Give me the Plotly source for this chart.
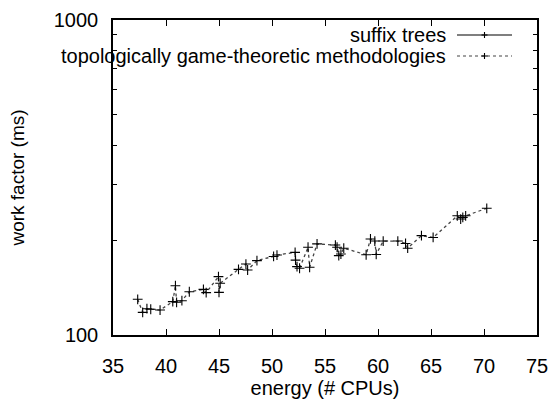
import plotly.graph_objects as go

# ---- data ----
suffix_trees_x = []
suffix_trees_y = []

methodologies_x = [37.33, 37.8, 38.2, 38.56, 39.44, 40.64, 40.89, 41.0, 41.5, 42.2,
                   43.53, 43.79, 44.95, 45.0, 45.11, 46.84, 47.54, 47.7, 48.58, 50.15,
                   50.47, 52.18, 52.22, 52.36, 52.6, 53.4, 53.55, 54.25, 55.98, 56.14,
                   56.3, 56.5, 56.77, 58.88, 59.29, 59.7, 59.83, 60.49, 61.87, 62.6,
                   62.8, 64.1, 65.2, 67.48, 67.8, 68.0, 68.27, 70.26]
methodologies_y = [129.8, 118.0, 121.2, 120.7, 120.0, 127.6, 143.4, 127.0, 128.5, 137.2,
                   139.6, 136.3, 153.2, 136.6, 146.0, 161.6, 168.0, 160.8, 172.2, 177.6,
                   179.4, 183.0, 172.9, 164.9, 162.9, 189.9, 164.1, 194.6, 193.0, 189.9,
                   178.6, 180.7, 188.6, 179.8, 201.8, 198.7, 180.2, 198.7, 198.7, 195.3,
                   188.6, 206.7, 204.0, 239.0, 233.4, 236.2, 239.0, 252.5]

series_names = ["suffix trees", "topologically game-theoretic methodologies"]
x_ticks = [35, 40, 45, 50, 55, 60, 65, 70, 75]
y_ticks = [100, 1000]
x_title = "energy (# CPUs)"
y_title = "work factor (ms)"

FONT = "Liberation Sans, Arial, Helvetica, sans-serif"
FS = 20

fig = go.Figure()
fig.add_trace(go.Scatter(
    x=suffix_trees_x, y=suffix_trees_y, mode="lines+markers", name=series_names[0],
    line=dict(color="black", width=1.2),
    marker=dict(symbol="cross-thin", size=7, line=dict(color="black", width=1.1)),
    showlegend=False))
fig.add_trace(go.Scatter(
    x=methodologies_x, y=methodologies_y, mode="lines+markers", name=series_names[1],
    line=dict(color="#444444", width=1.3, dash="dot"),
    marker=dict(symbol="cross-thin", size=7, line=dict(color="black", width=1.1)),
    showlegend=False))

# ---- gnuplot-like legend: text right-aligned, sample to its right ----
legend_rows = [(35, "solid"), (56, "dot")]
W, H = 554, 399
ml, mr, mt, mb = 113, 17, 20, 64
pw, ph = W - ml - mr, H - mt - mb
def px(xp):
    return (xp - ml) / pw
def py(yp):
    return 1 - (yp - mt) / ph
for name, (yrow, dash) in zip(series_names, legend_rows):
    fig.add_annotation(x=px(447), y=py(yrow), xref="paper", yref="paper",
                       text=name, showarrow=False, xanchor="right", yanchor="middle",
                       borderpad=0,
                       font=dict(family=FONT, size=FS, color="black"))
    fig.add_shape(type="line", xref="paper", yref="paper",
                  x0=px(457), x1=px(512), y0=py(yrow), y1=py(yrow),
                  line=dict(color="black" if dash == "solid" else "#444444",
                            width=1.1 if dash == "solid" else 1.2, dash=dash))
    fig.add_shape(type="line", xref="paper", yref="paper",
                  x0=px(484.5 - 3), x1=px(484.5 + 3), y0=py(yrow), y1=py(yrow),
                  line=dict(color="black", width=1.1))
    fig.add_shape(type="line", xref="paper", yref="paper",
                  x0=px(484.5), x1=px(484.5), y0=py(yrow - 3), y1=py(yrow + 3),
                  line=dict(color="black", width=1.1))

fig.update_layout(
    width=W, height=H,
    margin=dict(l=ml, r=mr, t=mt, b=mb, pad=0, autoexpand=False),
    paper_bgcolor="white", plot_bgcolor="white",
    font=dict(family=FONT, size=FS, color="black"),
    showlegend=False,
)
fig.update_xaxes(
    range=[35, 75], tickvals=x_ticks, ticktext=[str(v) for v in x_ticks],
    ticks="inside", ticklen=6, tickwidth=1, tickcolor="black",
    showline=True, linecolor="black", linewidth=1.5, mirror="allticks",
    showgrid=False, zeroline=False, ticklabelstandoff=12, automargin=False,
    title=dict(text=x_title, standoff=17, font=dict(family=FONT, size=FS)),
    tickfont=dict(family=FONT, size=FS),
)
fig.update_yaxes(
    type="log", range=[2, 3], tickvals=y_ticks, ticktext=[str(v) for v in y_ticks],
    ticks="inside", ticklen=6, tickwidth=1, tickcolor="black",
    showline=True, linecolor="black", linewidth=1.5, mirror="allticks",
    showgrid=False, zeroline=False, ticklabelstandoff=9, automargin=False,
    minor=dict(tickvals=[200, 300, 400, 500, 600, 700, 800, 900], ticks="inside",
               ticklen=4, tickwidth=1, tickcolor="black", showgrid=False),
    title=dict(text=y_title, standoff=24, font=dict(family=FONT, size=19)),
    tickfont=dict(family=FONT, size=FS),
)

fig.write_html("out.html")
